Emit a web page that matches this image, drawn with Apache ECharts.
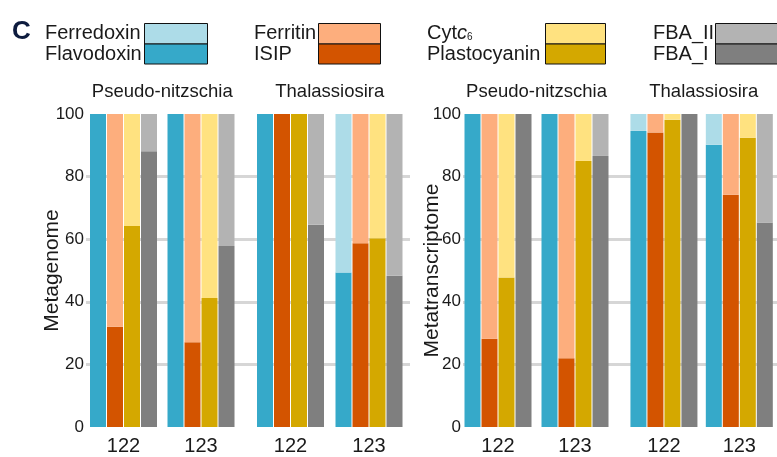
<!DOCTYPE html>
<html>
<head>
<meta charset="utf-8">
<script src="https://cdn.jsdelivr.net/npm/echarts@6/dist/echarts.min.js"></script>
<style>
html,body{margin:0;padding:0;background:#fff;}
#chart{width:777px;height:457px;}
</style>
</head>
<body>
<div id="chart"></div>
<script>
// ---------- data ----------
const facets = ['Pseudo-nitzschia', 'Thalassiosira'];
const sampleLabels = ['122', '123'];
const panelTitles = ['Metagenome', 'Metatranscriptome'];
const yTicks = [0, 20, 40, 60, 80, 100];

// order in each array: [Pseudo 122, Pseudo 123, Thalassiosira 122, Thalassiosira 123]
// Metagenome
const mgFlavodoxin   = [100, 100, 100, 49.4];
const mgFerredoxin   = [0, 0, 0, 50.6];
const mgISIP         = [32, 27.1, 100, 58.7];
const mgFerritin     = [68, 72.9, 0, 41.3];
const mgPlastocyanin = [64.2, 41.2, 100, 60.3];
const mgCytc6        = [35.8, 58.8, 0, 39.7];
const mgFBAI         = [88.1, 57.8, 64.6, 48.3];
const mgFBAII        = [11.9, 42.2, 35.4, 51.7];
// Metatranscriptome
const mtFlavodoxin   = [100, 100, 94.6, 90.2];
const mtFerredoxin   = [0, 0, 5.4, 9.8];
const mtISIP         = [28.2, 22, 94.1, 74.2];
const mtFerritin     = [71.8, 78, 5.9, 25.8];
const mtPlastocyanin = [47.8, 85, 98.2, 92.4];
const mtCytc6        = [52.2, 15, 1.8, 7.6];
const mtFBAI         = [100, 86.6, 100, 65.3];
const mtFBAII        = [0, 13.4, 0, 34.7];

// ---------- styling ----------
const colors = {
  Flavodoxin: '#36a9c9', Ferredoxin: '#addce8',
  ISIP: '#d35400', Ferritin: '#fdae7d',
  Plastocyanin: '#d4a800', Cytc6: '#ffe280',
  FBAI: '#7f7f7f', FBAII: '#b3b3b3'
};
const FONT = '"Liberation Sans", Arial, Helvetica, sans-serif';
const TXT = '#1a1a1a';

const panels = [
  {pairs: [
    ['Flavodoxin', mgFlavodoxin, 'Ferredoxin', mgFerredoxin],
    ['ISIP', mgISIP, 'Ferritin', mgFerritin],
    ['Plastocyanin', mgPlastocyanin, 'Cytc6', mgCytc6],
    ['FBAI', mgFBAI, 'FBAII', mgFBAII]
  ]},
  {pairs: [
    ['Flavodoxin', mtFlavodoxin, 'Ferredoxin', mtFerredoxin],
    ['ISIP', mtISIP, 'Ferritin', mtFerritin],
    ['Plastocyanin', mtPlastocyanin, 'Cytc6', mtCytc6],
    ['FBAI', mtFBAI, 'FBAII', mtFBAII]
  ]}
];

// layout (pixels)
const TOP = 114, BOTTOM = 30;
const bgGrids = [{left: 86, width: 324}, {left: 463, width: 400}];
const facetGrids = [
  [{left: 84.75, width: 155}, {left: 251.25, width: 157}],
  [{left: 459.5, width: 154}, {left: 626.25, width: 155}]
];
const facetTitleY = 92;
const axisTitleX = [52.5, 432];

const grid = [], xAxis = [], yAxis = [], series = [], graphic = [];

panels.forEach((p, pi) => {
  // background grid carrying gridlines and y tick labels
  const bgIdx = grid.length;
  grid.push({left: bgGrids[pi].left, width: bgGrids[pi].width, top: TOP, bottom: BOTTOM, containLabel: false});
  xAxis.push({gridIndex: bgIdx, type: 'category', data: [''], show: false});
  yAxis.push({
    gridIndex: bgIdx, type: 'value', min: yTicks[0], max: yTicks[yTicks.length - 1], interval: 20,
    axisLine: {show: false}, axisTick: {show: false},
    axisLabel: {show: true, margin: 2, fontSize: 17, color: TXT, fontFamily: FONT},
    splitLine: {show: true, lineStyle: {color: '#d6d6d6', width: 3},
      showMinLine: false, showMaxLine: false}
  });
  graphic.push({type: 'text', x: axisTitleX[pi], y: TOP + (457 - BOTTOM - TOP) / 2, rotation: Math.PI / 2,
    style: {text: panelTitles[pi], fontSize: 21, fontFamily: FONT, fill: TXT, align: 'center', verticalAlign: 'middle'}});

  facets.forEach((f, fi) => {
    const gIdx = grid.length;
    const g = facetGrids[pi][fi];
    grid.push({left: g.left, width: g.width, top: TOP, bottom: BOTTOM, containLabel: false});
    xAxis.push({gridIndex: gIdx, type: 'category', data: sampleLabels,
      axisLine: {show: false}, axisTick: {show: false},
      axisLabel: {fontSize: 20, color: TXT, fontFamily: FONT, margin: 9}});
    yAxis.push({gridIndex: gIdx, type: 'value', min: 0, max: 100, show: false, splitLine: {show: false}});
    graphic.push({type: 'text', x: g.left + g.width / 2, y: facetTitleY,
      style: {text: f, fontSize: 18.5, fontFamily: FONT, fill: TXT, align: 'center', verticalAlign: 'middle'}});

    p.pairs.forEach((pair, k) => {
      const [lo, loArr, hi, hiArr] = pair;
      const sl = [fi * 2, fi * 2 + 2];
      const common = {type: 'bar', xAxisIndex: gIdx, yAxisIndex: gIdx, stack: 'p' + pi + 'f' + fi + 'k' + k,
        barWidth: 16, barGap: '6.25%', barCategoryGap: '10%', animation: false, silent: true};
      series.push(Object.assign({}, common, {name: lo, data: loArr.slice(sl[0], sl[1]), itemStyle: {color: colors[lo]}}));
      series.push(Object.assign({}, common, {name: hi, data: hiArr.slice(sl[0], sl[1]), itemStyle: {color: colors[hi]}}));
    });
  });
});

// panel letter
graphic.push({type: 'text', x: 12, y: 32, style: {text: 'C', fontSize: 26, fontWeight: 'bold', fontFamily: FONT, fill: '#0d1b3e', verticalAlign: 'middle'}});

// custom legend: label pairs + two-row boxes
const legendItems = [
  {tx: 45, bx: 144, bw: 63, top: 'Ferredoxin', bot: 'Flavodoxin', ct: colors.Ferredoxin, cb: colors.Flavodoxin},
  {tx: 254, bx: 318, bw: 62, top: 'Ferritin', bot: 'ISIP', ct: colors.Ferritin, cb: colors.ISIP},
  {tx: 427, bx: 545, bw: 60, top: '{a|Cyt}{i|c}{s|6}', bot: 'Plastocyanin', ct: colors.Cytc6, cb: colors.Plastocyanin},
  {tx: 653, bx: 715, bw: 64, top: 'FBA_II', bot: 'FBA_I', ct: colors.FBAII, cb: colors.FBAI}
];
legendItems.forEach(it => {
  graphic.push({type: 'rect', shape: {x: it.bx + 0.5, y: 23.5, width: it.bw, height: 20.5}, style: {fill: it.ct, stroke: '#111', lineWidth: 1}});
  graphic.push({type: 'rect', shape: {x: it.bx + 0.5, y: 44, width: it.bw, height: 20}, style: {fill: it.cb, stroke: '#111', lineWidth: 1}});
  graphic.push({type: 'text', x: it.tx, y: 33, style: {text: it.top, fontSize: 20, fontFamily: FONT, fill: TXT, verticalAlign: 'middle',
    rich: {a: {fontSize: 20, fontFamily: FONT, fill: TXT}, i: {fontSize: 20, fontStyle: 'italic', fontFamily: FONT, fill: TXT}, s: {fontSize: 10, fontFamily: FONT, fill: TXT, padding: [8, 0, 0, 0]}}}});
  graphic.push({type: 'text', x: it.tx, y: 54, style: {text: it.bot, fontSize: 20, fontFamily: FONT, fill: TXT, verticalAlign: 'middle'}});
});

const chart = echarts.init(document.getElementById('chart'), null, {renderer: 'canvas'});
chart.setOption({
  animation: false,
  backgroundColor: '#fff',
  textStyle: {fontFamily: FONT},
  grid, xAxis, yAxis, series, graphic
});
</script>
</body>
</html>
